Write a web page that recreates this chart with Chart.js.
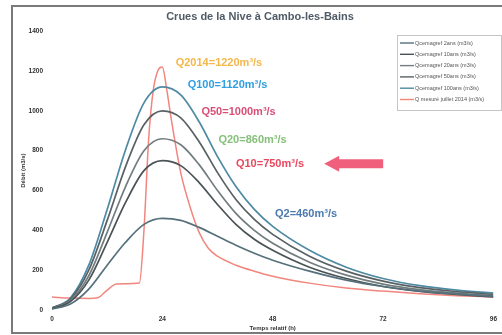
<!DOCTYPE html>
<html>
<head>
<meta charset="utf-8">
<script src="https://cdn.jsdelivr.net/npm/chart.js@4"></script>
<style>
  html, body { margin: 0; padding: 0; background: #fff; }
  #wrap { width: 502px; height: 335px; }
</style>
</head>
<body>
<div id="wrap"><canvas id="chart" width="502" height="335"></canvas></div>
<script>
// Time axis (h) for the Cemagref design hydrographs
const hours = [0, 4, 8, 12, 16, 20, 24, 28, 32, 36, 40, 44, 48, 56, 64, 72, 80, 88, 96];
const q2 = [5, 30, 105, 225, 340, 430, 460, 450, 415, 370, 325, 285, 250, 195, 150, 118, 95, 80, 68];
const q10 = [7, 42, 150, 340, 540, 700, 750, 725, 640, 530, 430, 355, 300, 215, 158, 118, 93, 78, 66];
const q20 = [8, 48, 172, 390, 620, 800, 860, 830, 730, 600, 485, 400, 335, 240, 175, 130, 102, 85, 72];
const q50 = [10, 55, 200, 450, 720, 930, 1000, 965, 845, 690, 555, 455, 380, 270, 195, 145, 112, 92, 78];
const q100 = [10, 60, 225, 505, 805, 1040, 1120, 1080, 945, 770, 620, 505, 420, 300, 215, 158, 122, 100, 85];

// Measured July 2014 flood
const hours2014 = [0, 4, 8, 10, 12, 14, 16, 19, 20, 21, 22, 23, 24, 25, 26, 28, 30, 32, 34, 36, 40, 44, 48, 56, 64, 72, 80, 88, 96];
const q2014 = [65, 60, 58, 62, 100, 130, 132, 135, 400, 850, 1100, 1200, 1220, 1100, 950, 690, 520, 390, 310, 270, 225, 195, 170, 135, 110, 95, 82, 72, 65];

const seriesLabels = [
  'Qcemagref 2ans (m3/s)',
  'Qcemagref 10ans (m3/s)',
  'Qcemagref 20ans (m3/s)',
  'Qcemagref 50ans (m3/s)',
  'Qcemagref 100ans (m3/s)',
  'Q mesuré juillet 2014 (m3/s)'
];

const xTicks = [0, 24, 48, 72, 96];

// Callout texts and where they sit (data coords: hours, m3/s)
const calloutTexts = ['Q2014=1220m³/s', 'Q100=1120m³/s', 'Q50=1000m³/s', 'Q20=860m³/s', 'Q10=750m³/s', 'Q2=460m³/s'];
const calloutPos = [[26.9, 1240], [29.5, 1130], [32.5, 995], [36.2, 855], [40, 735], [48.5, 483]];
const calloutColors = ['#f4b74c', '#2f9fe0', '#d84f78', '#86c07a', '#e8485f', '#4b79b0'];

function pts(xs, ys) {
  return xs.map((x, i) => ({ x: x, y: ys[i] }));
}

const lineColors = ['#55707a', '#4a5356', '#727d80', '#596164', '#4e8aa3', '#f2857d'];
const seriesData = [pts(hours, q2), pts(hours, q10), pts(hours, q20), pts(hours, q50), pts(hours, q100), pts(hours2014, q2014)];

const datasets = seriesData.map((d, i) => ({
  label: seriesLabels[i],
  data: d,
  borderColor: lineColors[i],
  borderWidth: i === 5 ? 1.5 : 1.7,
  pointRadius: 0,
  fill: false,
  cubicInterpolationMode: 'monotone'
}));

// Frame of the scanned figure
const framePlugin = {
  id: 'frame',
  beforeDraw(chart) {
    const ctx = chart.ctx;
    ctx.save();
    ctx.fillStyle = '#fff';
    ctx.fillRect(0, 0, chart.width, chart.height);
    ctx.strokeStyle = '#7a7a7a';
    ctx.lineWidth = 2;
    ctx.strokeRect(12, 6, 600, 327);
    ctx.restore();
  }
};

// Legend box in the upper right corner
const boxLegend = {
  id: 'boxLegend',
  afterDraw(chart) {
    const ctx = chart.ctx;
    const x0 = 397, y0 = 35, w = 104, h = 75;
    ctx.save();
    ctx.fillStyle = '#fff';
    ctx.fillRect(x0, y0, w, h);
    ctx.strokeStyle = '#8a8a8a';
    ctx.lineWidth = 1;
    ctx.setLineDash([1, 1]);
    ctx.strokeRect(x0 + 0.5, y0 + 0.5, w, h);
    ctx.setLineDash([]);
    ctx.font = '5.5px "Liberation Sans"';
    ctx.textBaseline = 'middle';
    chart.data.datasets.forEach((ds, i) => {
      const y = y0 + 8 + i * 11.3;
      ctx.strokeStyle = ds.borderColor;
      ctx.lineWidth = 1.4;
      ctx.beginPath();
      ctx.moveTo(x0 + 3, y);
      ctx.lineTo(x0 + 17, y);
      ctx.stroke();
      ctx.fillStyle = '#555';
      ctx.fillText(ds.label, x0 + 18, y);
    });
    ctx.restore();
  }
};

// Coloured callouts and the arrow pointing at Q10
const callouts = {
  id: 'callouts',
  afterDatasetsDraw(chart) {
    const ctx = chart.ctx;
    const xs = chart.scales.x, ys = chart.scales.y;
    ctx.save();
    ctx.font = 'bold 11px "Liberation Sans"';
    ctx.textBaseline = 'middle';
    calloutTexts.forEach((t, i) => {
      ctx.fillStyle = calloutColors[i];
      ctx.fillText(t, xs.getPixelForValue(calloutPos[i][0]), ys.getPixelForValue(calloutPos[i][1]));
    });
    // arrow
    const ax = xs.getPixelForValue(59.2), ay = ys.getPixelForValue(735);
    ctx.fillStyle = '#f0607c';
    ctx.beginPath();
    ctx.moveTo(ax, ay);
    ctx.lineTo(ax + 15, ay - 8);
    ctx.lineTo(ax + 15, ay - 4.5);
    ctx.lineTo(ax + 59, ay - 4.5);
    ctx.lineTo(ax + 59, ay + 4.5);
    ctx.lineTo(ax + 15, ay + 4.5);
    ctx.lineTo(ax + 15, ay + 8);
    ctx.closePath();
    ctx.fill();
    ctx.restore();
  }
};

const ctx = document.getElementById('chart').getContext('2d');
const chart = new Chart(ctx, {
  type: 'line',
  data: { datasets },
  options: {
    responsive: false,
    animation: false,
    layout: { padding: { left: 20, right: 2, top: 0, bottom: 3 } },
    plugins: {
      legend: { display: false },
      tooltip: { enabled: false },
      title: {
        display: true,
        text: 'Crues de la Nive à Cambo-les-Bains',
        color: '#4f5b66',
        font: { family: 'Liberation Sans', size: 11, weight: 'bold' },
        padding: { top: 10, bottom: 8 }
      }
    },
    scales: {
      x: {
        type: 'linear',
        min: 0,
        max: 96,
        afterBuildTicks: (scale) => { scale.ticks = xTicks.map(v => ({ value: v })); },
        grid: { display: false, drawTicks: false },
        border: { display: false },
        ticks: { color: '#333', font: { family: 'Liberation Sans', size: 6.5, weight: 'bold' }, padding: 5, maxRotation: 0 },
        title: { display: true, text: 'Temps relatif (h)', color: '#333', font: { family: 'Liberation Sans', size: 6, weight: 'bold' }, padding: { top: 1, bottom: 0 } },
        afterFit: (scale) => { scale.height = 22; }
      },
      y: {
        min: 0,
        max: 1400,
        ticks: { stepSize: 200, color: '#333', font: { family: 'Liberation Sans', size: 6.5, weight: 'bold' }, padding: 9, callback: (v) => String(v) },
        grid: { display: false, drawTicks: false },
        border: { display: false },
        title: { display: true, text: 'Débit (m3/s)', color: '#333', font: { family: 'Liberation Sans', size: 6, weight: 'bold' }, padding: { top: 0, bottom: 2 } },
        afterFit: (scale) => { scale.width = 32; }
      }
    }
  },
  plugins: [framePlugin, boxLegend, callouts]
});
</script>
</body>
</html>
